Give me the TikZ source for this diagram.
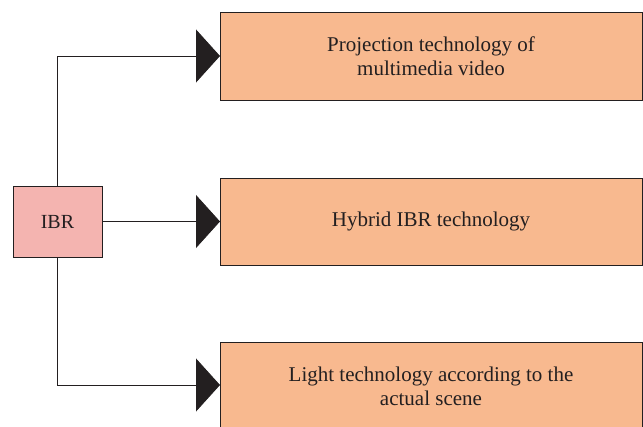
\documentclass[tikz,border=0pt]{standalone}
\usepackage{fontspec}
\setmainfont{Liberation Serif}
\usetikzlibrary{arrows.meta}
\definecolor{ibrfill}{HTML}{F4B4B0}
\definecolor{techfill}{HTML}{F8B98F}
\definecolor{ink}{HTML}{231F20}
\begin{document}
\begin{tikzpicture}[x=1pt,y=-1pt,
  box/.style={draw=ink,line width=0.8pt,inner sep=0pt},
  lbl/.style={font=\fontsize{21}{24}\selectfont,text=ink,align=center},
  conn/.style={draw=ink,line width=0.8pt,-{Triangle[width=53pt,length=24pt]}}]
\useasboundingbox (0,0) rectangle (643,426);
\filldraw[box,fill=ibrfill] (13,186) rectangle (102,257);
\node[lbl,font=\fontsize{20}{24}\selectfont] (ibr) at (57.5,221.5) {IBR};
\coordinate (ibrT) at (57.5,186);
\coordinate (ibrB) at (57.5,257);
\coordinate (ibrR) at (102,221.5);
\filldraw[box,fill=techfill] (220,12) rectangle (642,100);
\filldraw[box,fill=techfill] (220,178) rectangle (642,265);
\filldraw[box,fill=techfill] (220,342) rectangle (642,440);
\node[lbl] (t1) at (431,56) {Projection technology of\\multimedia video};
\node[lbl] (t2) at (431,221.5) {Hybrid IBR technology};
\node[lbl] (t3) at (431,386) {Light technology according to the\\actual scene};
\coordinate (a1) at (220,56);
\coordinate (a2) at (220,221.5);
\coordinate (a3) at (220,385);
\draw[conn] (ibrT) |- (a1);
\draw[conn] (ibrR) -- (a2);
\draw[conn] (ibrB) |- (a3);
\end{tikzpicture}
\end{document}
